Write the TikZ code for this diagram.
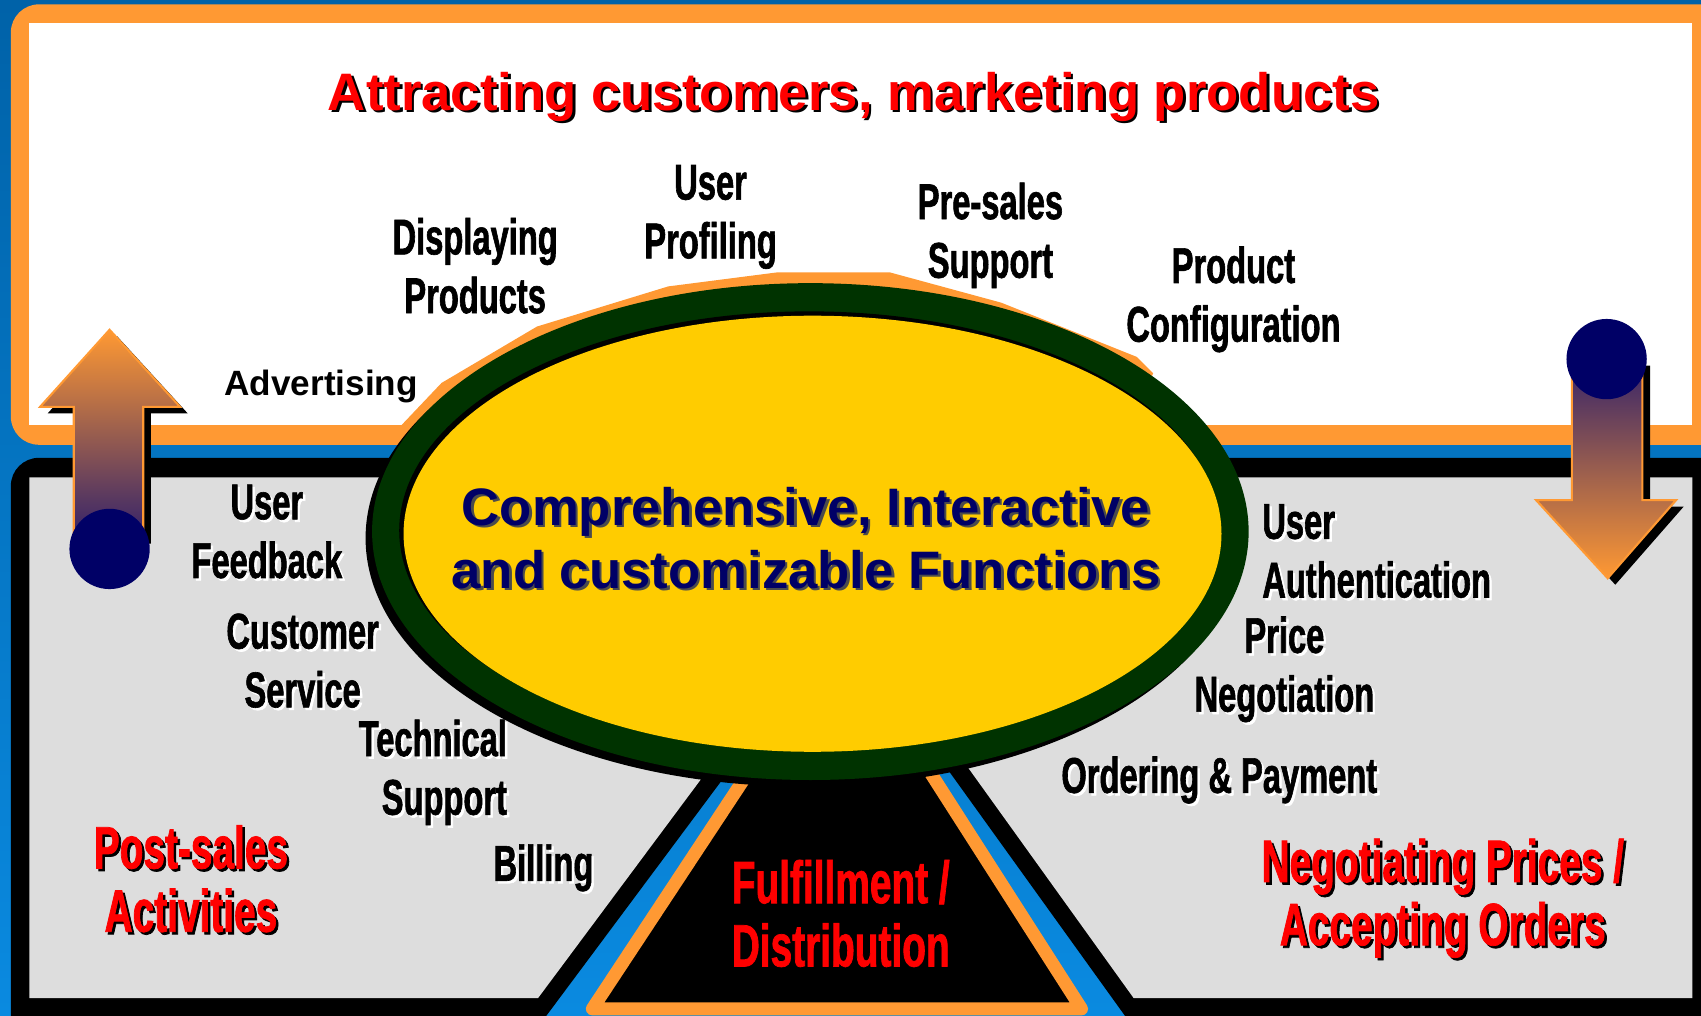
\documentclass[tikz,border=0pt]{standalone}
\usepackage{fontspec}
\setmainfont{Liberation Sans}
\newfontfamily\agency[FakeStretch=0.65, FakeBold=1.2]{Liberation Sans}
\usepackage{tikz}
\definecolor{bgdark}{HTML}{0062A8}
\definecolor{bglight}{HTML}{0A8AE0}
\definecolor{morange}{HTML}{FF9933}
\definecolor{mgrey}{HTML}{DDDDDD}
\definecolor{mgreen}{HTML}{003300}
\definecolor{myellow}{HTML}{FFCC00}
\definecolor{mnavy}{HTML}{000066}
\definecolor{mpurple}{HTML}{33226A}
\definecolor{mred}{HTML}{FF0000}

\newcommand{\shadowed}[5]{%
    \node [#2, text=#4, xshift=0.7pt, yshift=-0.7pt] (#1-sh) at (#3) {#5};
    \node [#2] (#1) at (#3) {#5};
}

\begin{document}
\begin{tikzpicture}[x=0.010848cm, y=-0.010848cm,
    tag/.style={font=\agency\bfseries\fontsize{14.3}{16.7}\selectfont, text=black, align=center, inner sep=0pt},
    redtag/.style={font=\agency\bfseries\fontsize{17}{18}\selectfont, text=mred, align=center, inner sep=0pt},
    headline/.style={font=\bfseries\fontsize{15}{18}\selectfont, text=mred, inner sep=0pt},
    coretext/.style={font=\bfseries\fontsize{15}{17.9}\selectfont, text=mnavy, align=center, inner sep=0pt}]
    \useasboundingbox (0,0) rectangle (1568,936);
    \clip (0,0) rectangle (1568,936);
    \shade [top color=bgdark, bottom color=bglight] (0,0) rectangle (1568,936);

    % top panel
    \fill [morange, rounded corners=8] (10,4) rectangle (1600,410);
    \fill [white] (27,21) rectangle (1560,392);

    % bottom panel with the notch
    \fill [black, rounded corners=8] (10,422) -- (1600,422) -- (1600,960) -- (1054,960) -- (831,650) -- (717,650) -- (486,960) -- (10,960) -- cycle;
    \fill [mgrey] (27,440) -- (1560,440) -- (1560,920) -- (1045,920) -- (851,650) -- (697,650) -- (496,920) -- (27,920) -- cycle;
    \filldraw [fill=black, draw=morange, line width=3.7pt, line join=round] (546,930) -- (997,930) -- (837,680) -- (711,680) -- cycle;

    % arrows
    \fill [black, shift={(7,6)}] (101,304) -- (166,375) -- (132,375) -- (132,495) -- (68,495) -- (68,375) -- (37,375) -- cycle;
    \shade [top color=morange, bottom color=mpurple, draw=morange, line width=0.6pt] (101,304) -- (166,375) -- (132,375) -- (132,495) -- (68,495) -- (68,375) -- (37,375) -- cycle;
    \fill [mnavy] (101,506) circle (37);

    \fill [black, shift={(7,6)}] (1449,331) -- (1514,331) -- (1514,461) -- (1545,461) -- (1482,533) -- (1416,461) -- (1449,461) -- cycle;
    \shade [top color=mpurple, bottom color=morange, draw=morange, line width=0.6pt] (1449,331) -- (1514,331) -- (1514,461) -- (1545,461) -- (1482,533) -- (1416,461) -- (1449,461) -- cycle;
    \fill [mnavy] (1481,331) circle (37);

    % ellipse
    \fill [morange] (372,410) -- (370,392) -- (407,353) -- (495,301) -- (616,264) -- (717,251) -- (820,251) -- (923,279) -- (1048,329) -- (1063,344) -- (1040,400) -- cycle;
    \fill [black] (741,496) ellipse (404 and 229);
    \fill [mgreen] (747,490) ellipse (404 and 229);
    \fill [black] (746,489) ellipse (378 and 202);
    \fill [myellow] (749,492) ellipse (377 and 201);

    \shadowed{headline}{headline}{787,89}{black}{Attracting customers, marketing products}
    \shadowed{core}{coretext}{743,496}{black!70}{Comprehensive, Interactive\\and customizable Functions}

    \node [font=\bfseries\fontsize{10}{12}\selectfont, inner sep=0pt] (advert) at (296,356) {Advertising};
    \shadowed{displaying}{tag}{438,245}{white}{Displaying\\Products}
    \shadowed{profiling}{tag}{655,200}{white}{User\\Profiling}
    \shadowed{presales}{tag}{913,217}{white}{Pre-sales\\Support}
    \shadowed{config}{tag}{1137,276}{white}{Product\\Configuration}

    \shadowed{feedback}{tag}{246,490}{white}{User\\Feedback}
    \shadowed{custserv}{tag}{279,609}{white}{Customer\\Service}
    \shadowed{techsup}{tag, anchor=east, align=right}{468,712}{white}{Technical\\Support}
    \shadowed{billing}{tag}{501,800}{white}{Billing}
    \shadowed{postsales}{redtag}{176,810}{black}{Post-sales\\Activities}

    \shadowed{auth}{tag, anchor=west, align=left}{1163,508}{white}{User\\Authentication}
    \shadowed{pricing}{tag}{1184,617}{white}{Price\\Negotiation}
    \shadowed{ordering}{tag}{1124,719}{white}{Ordering \& Payment}
    \shadowed{negotiating}{redtag}{1330,828}{black}{Negotiating Prices /\\Accepting Orders}

    \node [redtag] (fulfil) at (775,842) {Fulfillment /\\Distribution};
\end{tikzpicture}
\end{document}
